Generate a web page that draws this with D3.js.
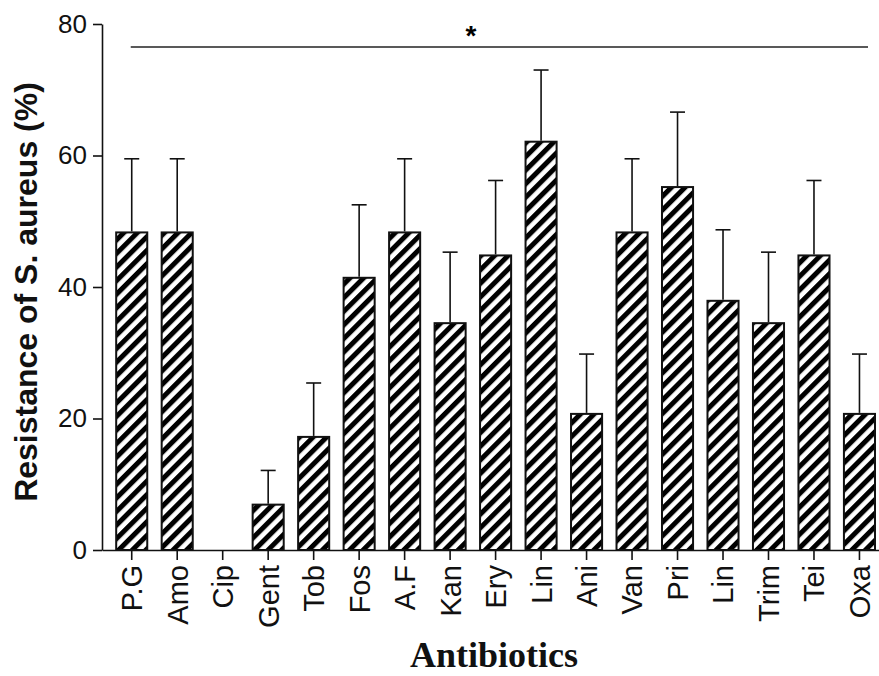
<!DOCTYPE html>
<html>
<head>
<meta charset="utf-8">
<script src="https://cdn.jsdelivr.net/npm/d3@7"></script>
<style>
    body { margin: 0; background: #fff; }
    svg { display: block; }
</style>
</head>
<body>
<div id="chart"></div>
<script>
// antibiotics on the x axis
const antibiotics = ["P.G", "Amo", "Cip", "Gent", "Tob", "Fos", "A.F", "Kan", "Ery", "Lin", "Ani", "Van", "Pri", "Lin", "Trim", "Tei", "Oxa"];
// resistance (%) and upper error bar value
const resistance = [48.3, 48.3, 0, 6.9, 17.2, 41.4, 48.3, 34.5, 44.8, 62.1, 20.7, 48.3, 55.2, 37.9, 34.5, 44.8, 20.7];
const errorTop   = [59.5, 59.5, 0, 12.1, 25.4, 52.5, 59.5, 45.3, 56.2, 73.0, 29.8, 59.5, 66.6, 48.7, 45.3, 56.2, 29.8];
const yTicks = [0, 20, 40, 60, 80];
const sigLevel = 76.5;

const W = 879, H = 676;
const mLeft = 102, mRight = 879, mTop = 24, mBottom = 550;

const svg = d3.select("#chart").append("svg")
    .attr("width", W)
    .attr("height", H);

const pat = svg.append("defs").append("pattern")
    .attr("id", "hatch")
    .attr("patternUnits", "userSpaceOnUse")
    .attr("width", 9.6)
    .attr("height", 9.6)
    .attr("patternTransform", "rotate(45)");
pat.append("rect").attr("width", 9.6).attr("height", 9.6).attr("fill", "#fff");
pat.append("rect").attr("width", 5).attr("height", 9.6).attr("fill", "#000");

const keys = antibiotics.map((d, i) => i);

const x = d3.scaleBand()
    .domain(keys)
    .range([mLeft, mRight])
    .paddingInner(0.317)
    .paddingOuter(0.2)
    .align(0.78);

const y = d3.scaleLinear()
    .domain([0, 80])
    .range([mBottom, mTop]);

// bars
svg.append("g").selectAll("rect")
    .data(keys.filter(i => resistance[i] > 0))
    .join("rect")
    .attr("x", i => x(i))
    .attr("y", i => y(resistance[i]))
    .attr("width", x.bandwidth())
    .attr("height", i => y(0) - y(resistance[i]))
    .attr("fill", "url(#hatch)")
    .attr("stroke", "#111")
    .attr("stroke-width", 2);

// error bars (upper only)
const err = svg.append("g").attr("stroke", "#111").attr("stroke-width", 1.6);
keys.filter(i => resistance[i] > 0).forEach(i => {
    const cx = x(i) + x.bandwidth() / 2;
    err.append("line")
        .attr("x1", cx).attr("x2", cx)
        .attr("y1", y(resistance[i]) - 1).attr("y2", y(errorTop[i]));
    err.append("line")
        .attr("x1", cx - 7.5).attr("x2", cx + 7.5)
        .attr("y1", y(errorTop[i])).attr("y2", y(errorTop[i]));
});

// axes
const yAxis = svg.append("g")
    .attr("transform", `translate(${mLeft},0)`)
    .call(d3.axisLeft(y).tickValues(yTicks).tickSize(9).tickSizeOuter(0).tickPadding(6));
yAxis.selectAll("text")
    .attr("font-family", "Liberation Sans, Arial, sans-serif")
    .attr("font-size", 26)
    .attr("fill", "#111");

const xAxis = svg.append("g")
    .attr("transform", `translate(0,${mBottom})`)
    .call(d3.axisBottom(x).tickFormat(i => antibiotics[i]).tickSize(10).tickSizeOuter(0));
xAxis.selectAll("text")
    .attr("font-family", "Liberation Sans, Arial, sans-serif")
    .attr("font-size", 29)
    .attr("fill", "#111")
    .attr("text-anchor", "end")
    .attr("dy", "0.36em")
    .attr("transform", "translate(0,5) rotate(-90)")
    .attr("x", -10)
    .attr("y", 0);

svg.selectAll(".domain, .tick line").attr("stroke", "#111").attr("stroke-width", 1.6);

// significance line
const first = x(0) + x.bandwidth() / 2;
svg.append("line")
    .attr("x1", first - 1).attr("x2", 868)
    .attr("y1", y(sigLevel)).attr("y2", y(sigLevel))
    .attr("stroke", "#222").attr("stroke-width", 1.6);
svg.append("text")
    .attr("x", 471).attr("y", 45)
    .attr("text-anchor", "middle")
    .attr("font-family", "Liberation Sans, Arial, sans-serif")
    .attr("font-weight", "bold")
    .attr("font-size", 28)
    .text("*");

// axis titles
svg.append("text")
    .attr("transform", "translate(37,292) rotate(-90)")
    .attr("text-anchor", "middle")
    .attr("font-family", "Liberation Sans, Arial, sans-serif")
    .attr("font-weight", "bold")
    .attr("font-size", 32)
    .attr("fill", "#111")
    .text("Resistance of S. aureus (%)");

svg.append("text")
    .attr("x", 494).attr("y", 667)
    .attr("text-anchor", "middle")
    .attr("font-family", "Liberation Serif, Times New Roman, serif")
    .attr("font-weight", "bold")
    .attr("font-size", 36)
    .attr("fill", "#111")
    .text("Antibiotics");
</script>
</body>
</html>
